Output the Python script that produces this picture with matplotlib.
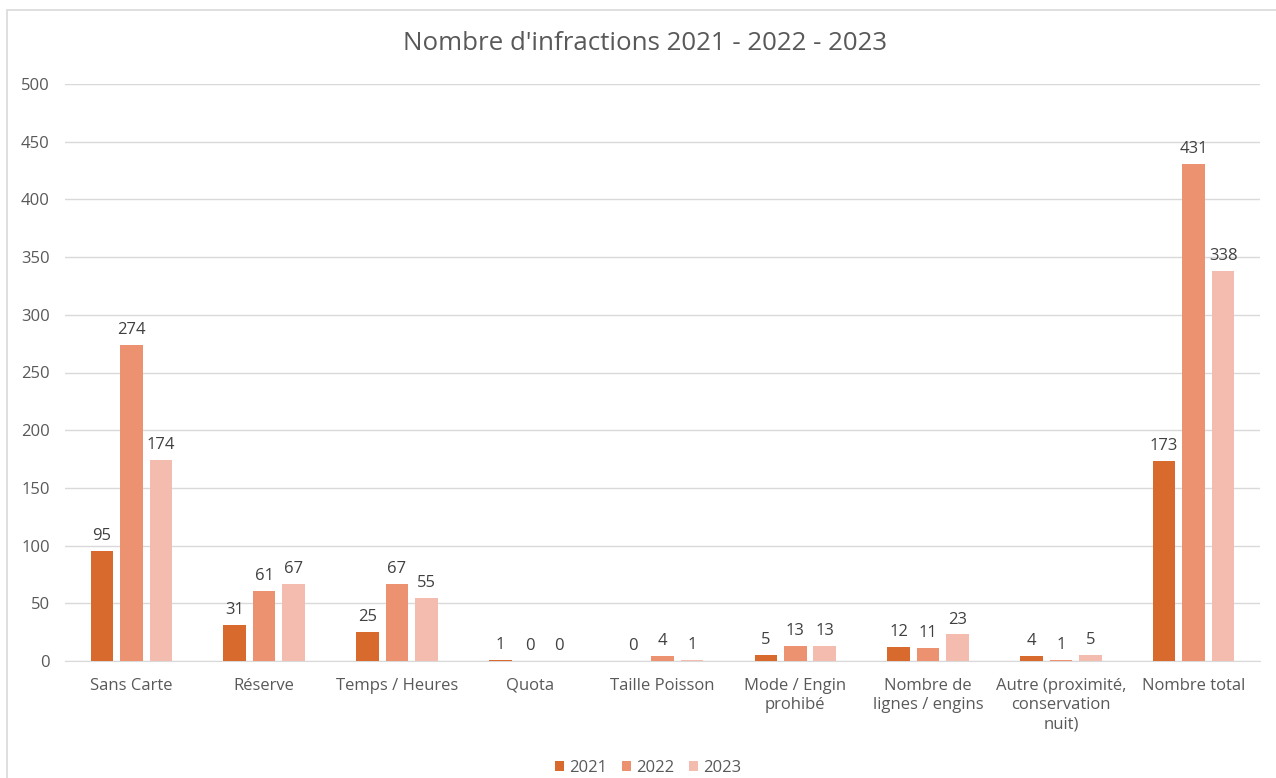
import matplotlib.pyplot as plt
import numpy as np
from matplotlib.patches import Rectangle

plt.rcParams["font.family"] = ["Open Sans", "DejaVu Sans"]

categories = ["Sans Carte", "Réserve", "Temps / Heures", "Quota", "Taille Poisson",
              "Mode / Engin\nprohibé", "Nombre de\nlignes / engins",
              "Autre (proximité,\nconservation\nnuit)", "Nombre total"]
years = ["2021", "2022", "2023"]
v2021 = [95, 31, 25, 1, 0, 5, 12, 4, 173]
v2022 = [274, 61, 67, 0, 4, 13, 11, 1, 431]
v2023 = [174, 67, 55, 0, 1, 13, 23, 5, 338]
colors = ["#D86A2D", "#EC9271", "#F4BCAF"]

fig = plt.figure(figsize=(12.76, 7.78), dpi=100)
# chart frame (cropped on the right and bottom like the source)
fig.patches.append(Rectangle((7 / 1276, -0.1), 1.1, 1.1 - 10 / 778,
                             transform=fig.transFigure, fill=False,
                             edgecolor="#D9D9D9", linewidth=1.2, zorder=-5))
ax = fig.add_axes([65 / 1276, 1 - 661 / 778, 1195 / 1276, 577 / 778])

x = np.arange(len(categories))
pitch, width = 0.222, 0.17
for i, (vals, col, yr) in enumerate(zip([v2021, v2022, v2023], colors, years)):
    bars = ax.bar(x + (i - 1) * pitch, vals, width, color=col, label=yr, zorder=3)
    for b, v in zip(bars, vals):
        ax.annotate(str(v), (b.get_x() + b.get_width() / 2, v),
                    xytext=(0, 5), textcoords="offset points",
                    ha="center", va="bottom", fontsize=12, color="#404040")

ax.set_xlim(-0.5, len(categories) - 0.5)
ax.set_ylim(0, 500)
ax.set_yticks(range(0, 501, 50))
ax.set_xticks(x)
ax.set_xticklabels(categories, linespacing=1.3)
ax.tick_params(axis="both", length=0, labelsize=12, labelcolor="#595959")
ax.tick_params(axis="y", pad=11)
ax.tick_params(axis="x", pad=12)
ax.grid(axis="y", color="#D9D9D9", linewidth=1, zorder=0)
for s in ["top", "right", "left"]:
    ax.spines[s].set_visible(False)
ax.spines["bottom"].set_color("#D9D9D9")

fig.text(645 / 1276, 1 - 43 / 778, "Nombre d'infractions 2021 - 2022 - 2023",
         ha="center", va="center", fontsize=18.6, color="#595959")

fig.legend(loc="center", bbox_to_anchor=(648 / 1276, 1 - 768 / 778), ncol=3,
           frameon=False, fontsize=12, handlelength=0.55, handleheight=0.55,
           handletextpad=0.3, columnspacing=0.9, labelcolor="#595959")

fig.savefig("out.png", dpi=100)
